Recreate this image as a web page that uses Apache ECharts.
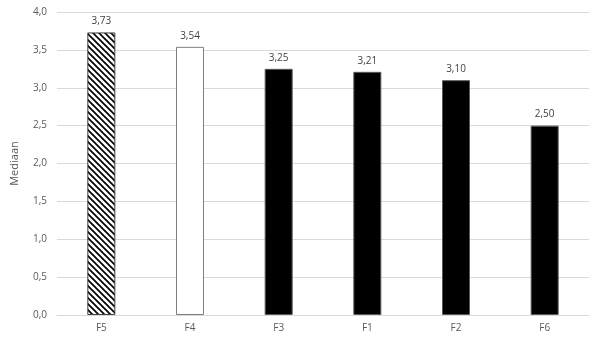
<!DOCTYPE html>
<html><head><meta charset="utf-8">
<script src="https://cdn.jsdelivr.net/npm/echarts@6/dist/echarts.min.js"></script>
<style>html,body{margin:0;padding:0;background:#fff}#c{width:600px;height:342px}</style>
</head><body><div id="c"></div>
<script>
const categories = ['F5','F4','F3','F1','F2','F6'];
const values = [3.73, 3.54, 3.25, 3.21, 3.10, 2.50];
const yTicks = [0, 0.5, 1.0, 1.5, 2.0, 2.5, 3.0, 3.5, 4.0];
const yName = 'Mediaan';

const P = 6;
const pc = document.createElement('canvas');
pc.width = P; pc.height = P;
const g = pc.getContext('2d');
g.fillStyle = '#fff'; g.fillRect(0,0,P,P);
g.strokeStyle = '#000'; g.lineWidth = 1.7;
for (let k = -1; k <= 1; k++) { g.beginPath(); g.moveTo(k*P-1, -1); g.lineTo(k*P+P+1, P+1); g.stroke(); }

const styles = [
  {color: {image: pc, repeat: 'repeat'}, borderColor: '#404040', borderWidth: 1},
  {color: '#fff', borderColor: '#7f7f7f', borderWidth: 1},
  {color: '#000', borderColor: '#595959', borderWidth: 1},
  {color: '#000', borderColor: '#595959', borderWidth: 1},
  {color: '#000', borderColor: '#595959', borderWidth: 1},
  {color: '#000', borderColor: '#595959', borderWidth: 1}
];
const fmt = (v, d) => v.toFixed(d).replace('.', ',');
const chart = echarts.init(document.getElementById('c'), null, {renderer: 'canvas'});
chart.setOption({
  animation: false,
  textStyle: {fontFamily: 'Open Sans, sans-serif'},
  grid: {left: 57, right: 11, top: 12, bottom: 27},
  xAxis: {
    type: 'category', data: categories,
    axisLine: {lineStyle: {color: '#d9d9d9'}}, axisTick: {show: false},
    axisLabel: {color: '#595959', fontSize: 10, margin: 8}
  },
  yAxis: {
    type: 'value', min: 0, max: yTicks[yTicks.length-1], interval: 0.5,
    name: yName, nameLocation: 'middle', nameGap: 37,
    nameTextStyle: {color: '#595959', fontSize: 11},
    axisLine: {show: false}, axisTick: {show: false},
    axisLabel: {color: '#595959', fontSize: 10, margin: 10, formatter: v => fmt(v, 1)},
    splitLine: {lineStyle: {color: '#d9d9d9'}}
  },
  series: [{
    type: 'bar', barWidth: 28,
    data: values.map((v, i) => ({value: v, itemStyle: styles[i]})),
    label: {show: true, position: 'top', distance: 6, color: '#404040', fontSize: 10, formatter: p => fmt(p.value, 2)}
  }]
});
</script></body></html>
